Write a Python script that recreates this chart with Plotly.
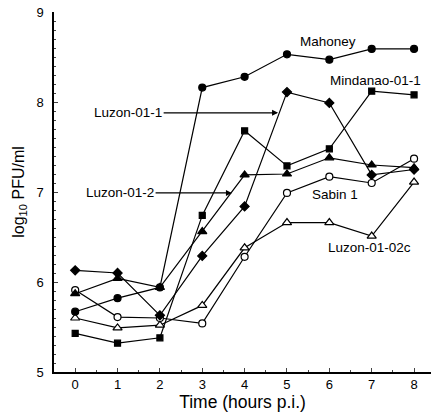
import plotly.graph_objects as go

hours = [0, 1, 2, 3, 4, 5, 6, 7, 8]
mahoney = [5.67, 5.82, 5.94, 8.16, 8.28, 8.53, 8.47, 8.59, 8.59]
mindanao = [5.43, 5.32, 5.38, 6.74, 7.68, 7.29, 7.48, 8.12, 8.08]
luzon_01_1 = [6.13, 6.10, 5.63, 6.29, 6.84, 8.11, 7.99, 7.19, 7.25]
luzon_01_2 = [5.87, 6.04, 5.94, 6.56, 7.19, 7.20, 7.38, 7.30, 7.27]
sabin_1 = [5.91, 5.61, 5.60, 5.54, 6.28, 6.99, 7.17, 7.10, 7.37]
luzon_01_02c = [5.60, 5.49, 5.52, 5.74, 6.38, 6.66, 6.66, 6.51, 7.11]

series = [
    ("Luzon-01-02c", luzon_01_02c, "triangle-up", "white", 8),
    ("Sabin 1", sabin_1, "circle", "white", 7),
    ("Luzon-01-2", luzon_01_2, "triangle-up", "black", 8),
    ("Luzon-01-1", luzon_01_1, "diamond", "black", 7),
    ("Mindanao-01-1", mindanao, "square", "black", 6),
    ("Mahoney", mahoney, "circle", "black", 7),
]

FAM = "Liberation Sans, Arial, sans-serif"

fig = go.Figure()
for name, vals, sym, fill, size in series:
    fig.add_trace(go.Scatter(
        x=hours, y=vals, mode="lines+markers", name=name,
        line=dict(color="black", width=1.2),
        marker=dict(symbol=sym, size=size, color=fill,
                    line=dict(color="black", width=1.2)),
        showlegend=False,
    ))

font = dict(family=FAM, size=13.5, color="black")

labels = [
    ("Mahoney", 5.97, 8.67),
    ("Mindanao-01-1", 7.1, 8.24),
    ("Sabin 1", 6.13, 6.97),
    ("Luzon-01-02c", 6.95, 6.38),
]
for txt, x, y in labels:
    fig.add_annotation(x=x, y=y, text=txt, showarrow=False, font=font)

arrows = [
    ("Luzon-01-1", 1.25, 7.88, 4.79, 7.88),
    ("Luzon-01-2", 1.06, 6.99, 3.70, 6.99),
]
for txt, tx, ty, hx, hy in arrows:
    fig.add_annotation(x=hx, y=hy, ax=tx, ay=ty, axref="x", ayref="y",
                       text=txt, showarrow=True, arrowhead=2, arrowsize=1,
                       arrowwidth=1.2, arrowcolor="black", font=font,
                       standoff=0, startstandoff=0)

fig.update_xaxes(
    range=[-0.5, 8.4], tickvals=hours, ticks="inside", ticklen=4,
    showline=True, linecolor="black", linewidth=1.5, showgrid=False,
    zeroline=False, tickfont=dict(family=FAM, size=13),
    minor=dict(dtick=0.5, ticks="inside", ticklen=2, tick0=0),
    title=dict(text="Time (hours p.i.)", font=dict(family=FAM, size=17.5), standoff=2),
    ticklabelstandoff=0, automargin=False,
)
fig.update_yaxes(
    range=[5, 9], tickvals=[5, 6, 7, 8, 9], ticks="inside", ticklen=4,
    showline=True, linecolor="black", linewidth=1.5, showgrid=False,
    zeroline=False, tickfont=dict(family=FAM, size=13),
    minor=dict(dtick=0.1, ticks="inside", ticklen=2),
    title=dict(text="log<sub>10</sub> PFU/ml", font=dict(family=FAM, size=16), standoff=8),
    ticklabelstandoff=6, automargin=False,
)

fig.update_layout(
    width=433, height=418,
    margin=dict(l=54, r=2, t=12, b=46),
    plot_bgcolor="white", paper_bgcolor="white",
    font=font,
)

fig.write_html("out.html", config={"displayModeBar": False},
               post_script="document.body.style.margin='0';document.body.style.padding='0';")
